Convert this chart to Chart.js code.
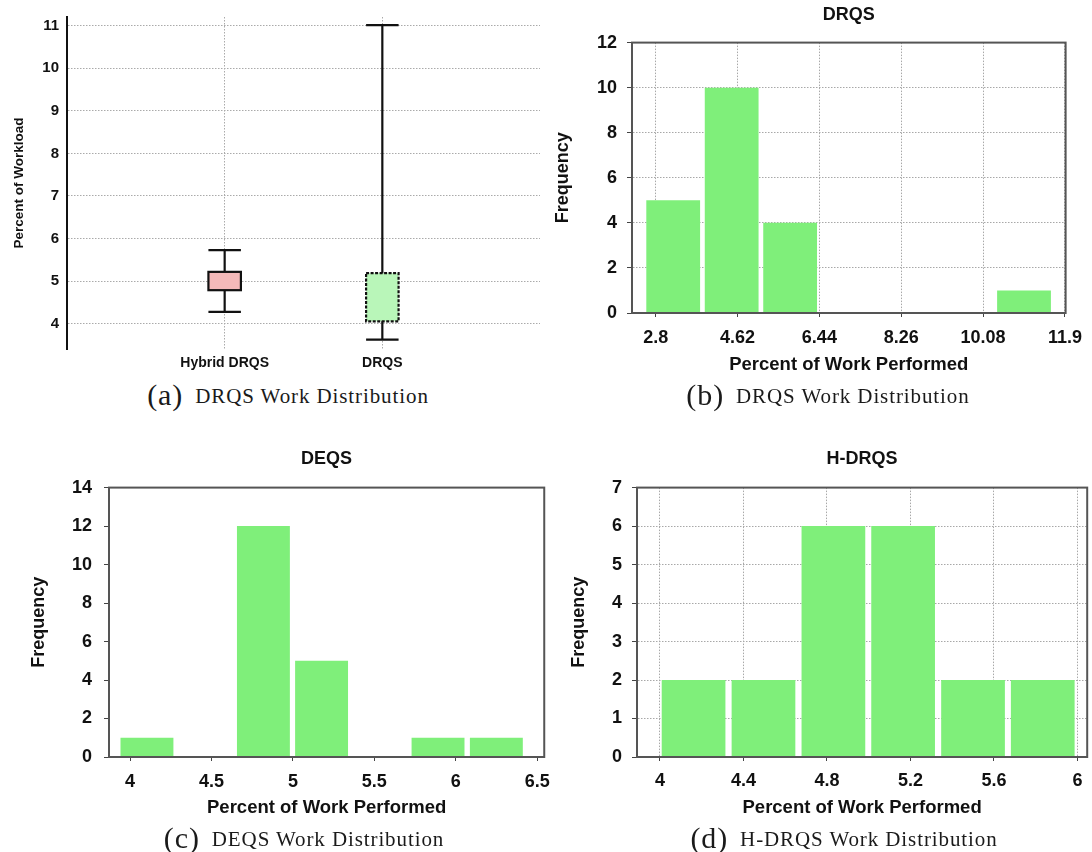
<!DOCTYPE html>
<html>
<head>
<meta charset="utf-8">
<title>Work Distribution</title>
<script src="https://cdn.jsdelivr.net/npm/chart.js@4.4.0/dist/chart.umd.min.js"></script>
<style>
    html, body { margin: 0; padding: 0; background: #fff; overflow: hidden; }
    #page { position: relative; width: 1092px; height: 852px; }
    .panel { position: absolute; }
    .caption {
        position: absolute;
        transform: translate(-50%, -50%);
        white-space: nowrap;
        font-family: 'Liberation Serif', 'DejaVu Serif', serif;
        font-size: 21px;
        letter-spacing: 0.9px;
        color: #1a1a1a;
    }
    .caption .tag { font-size: 30px; margin-right: 12px; vertical-align: -2px; }
</style>
</head>
<body>
<div id="page">
    <div class="panel" style="left:0;top:0;width:546px;height:378px"><canvas id="boxChart"></canvas></div>
    <div class="panel" style="left:546px;top:0;width:546px;height:380px"><canvas id="drqsChart"></canvas></div>
    <div class="panel" style="left:0;top:440px;width:560px;height:412px"><canvas id="deqsChart"></canvas></div>
    <div class="panel" style="left:546px;top:440px;width:546px;height:412px"><canvas id="hdrqsChart"></canvas></div>

    <div class="caption" style="left:288px;top:395px"><span class="tag">(a)</span>DRQS Work Distribution</div>
    <div class="caption" style="left:828px;top:395px"><span class="tag">(b)</span>DRQS Work Distribution</div>
    <div class="caption" style="left:304px;top:838px"><span class="tag">(c)</span>DEQS Work Distribution</div>
    <div class="caption" style="left:844px;top:838px"><span class="tag">(d)</span>H-DRQS Work Distribution</div>
</div>

<script>
// (a) box plot
const boxCategories = ['Hybrid DRQS', 'DRQS'];
const boxMin = [4.28, 3.63];
const boxQ1 = [4.79, 4.06];
const boxQ3 = [5.22, 5.19];
const boxMax = [5.73, 11.01];
const boxTicks = [4, 5, 6, 7, 8, 9, 10, 11];

// (b) DRQS histogram
const drqsBins = [3.19, 4.49, 5.79, 7.09, 8.39, 9.69, 10.99];
const drqsCounts = [5, 10, 4, 0, 0, 0, 1];
const drqsTicks = [2.8, 4.62, 6.44, 8.26, 10.08, 11.9];

// (c) DEQS histogram
const deqsBins = [4.104, 4.461, 4.819, 5.176, 5.534, 5.891, 6.249];
const deqsCounts = [1, 0, 12, 5, 0, 1, 1];
const deqsTicks = [4, 4.5, 5, 5.5, 6, 6.5];

// (d) H-DRQS histogram
const hdrqsBins = [4.161, 4.496, 4.831, 5.165, 5.5, 5.834];
const hdrqsCounts = [2, 2, 6, 6, 2, 2];
const hdrqsTicks = [4, 4.4, 4.8, 5.2, 5.6, 6];

const barGreen = '#7FEF7A';
const boxColors = ['#F4B9B9', '#B9F6B9'];
const boxDash = [[], [3, 1.5]];

Chart.defaults.font.family = "'Liberation Sans', Arial, sans-serif";
Chart.defaults.color = '#111';

const framePlugin = {
    id: 'frame',
    afterDraw(chart) {
        const { ctx, chartArea: a } = chart;
        ctx.save();
        ctx.strokeStyle = '#555';
        ctx.lineWidth = 2;
        ctx.strokeRect(a.left, a.top, a.right - a.left, a.bottom - a.top);
        ctx.restore();
    }
};

const whiskerPlugin = {
    id: 'whiskers',
    afterDatasetsDraw(chart) {
        const ctx = chart.ctx;
        const y = chart.scales.y;
        const meta = chart.getDatasetMeta(0);
        meta.data.forEach((bar, i) => {
            const half = bar.width / 2;
            const yMin = y.getPixelForValue(boxMin[i]);
            const yQ1 = y.getPixelForValue(boxQ1[i]);
            const yQ3 = y.getPixelForValue(boxQ3[i]);
            const yMax = y.getPixelForValue(boxMax[i]);
            ctx.save();
            ctx.strokeStyle = '#111';
            ctx.lineWidth = 2.2;
            ctx.beginPath();
            ctx.moveTo(bar.x, yMax); ctx.lineTo(bar.x, yQ3);
            ctx.moveTo(bar.x, yQ1); ctx.lineTo(bar.x, yMin);
            ctx.moveTo(bar.x - half, yMax); ctx.lineTo(bar.x + half, yMax);
            ctx.moveTo(bar.x - half, yMin); ctx.lineTo(bar.x + half, yMin);
            ctx.stroke();
            ctx.setLineDash(boxDash[i]);
            ctx.strokeRect(bar.x - half, yQ3, half * 2, yQ1 - yQ3);
            ctx.restore();
        });
    }
};

function initializeBoxChart() {
    new Chart(document.getElementById('boxChart'), {
        type: 'bar',
        data: {
            datasets: [{
                data: boxCategories.map((c, i) => ({ x: i + 1, y: [boxQ1[i], boxQ3[i]] })),
                backgroundColor: boxColors,
                borderWidth: 0,
                barPercentage: 0.206,
                categoryPercentage: 1
            }]
        },
        options: {
            responsive: true,
            maintainAspectRatio: false,
            animation: false,
            layout: { padding: { left: 0, right: 6, top: 3, bottom: 0 } },
            plugins: { legend: { display: false }, tooltip: { enabled: false } },
            scales: {
                x: {
                    type: 'linear',
                    min: 0,
                    max: boxCategories.length + 1,
                    offset: false,
                    afterBuildTicks: s => { s.ticks = boxCategories.map((c, i) => ({ value: i + 1 })); },
                    afterFit: s => { s.height = 29; },
                    ticks: {
                        callback: v => boxCategories[v - 1],
                        padding: 6,
                        autoSkip: false,
                        maxRotation: 0,
                        font: { size: 14, weight: 'bold' }
                    },
                    grid: { color: '#aaa', drawTicks: false, offset: false },
                    border: { display: false, dash: [1.5, 1.5] }
                },
                y: {
                    min: 3.41,
                    max: 11.2,
                    afterBuildTicks: s => { s.ticks = boxTicks.map(v => ({ value: v })); },
                    afterFit: s => { s.width = 67; },
                    ticks: { padding: 8, font: { size: 15, weight: 'bold' } },
                    grid: { color: '#aaa', drawTicks: false },
                    border: { display: true, color: '#111', width: 2, dash: [1.5, 1.5] },
                    title: {
                        display: true,
                        text: 'Percent of Workload',
                        font: { size: 13.5, weight: 'bold' },
                        padding: { top: 11, bottom: 0 }
                    }
                }
            }
        },
        plugins: [whiskerPlugin]
    });
}

function initializeHistogram(canvasId, title, bins, counts, xTicks, xMin, xMax, yMax, yStep, lay) {
    new Chart(document.getElementById(canvasId), {
        type: 'bar',
        data: {
            datasets: [{
                data: bins.map((b, i) => ({ x: b, y: counts[i] })),
                backgroundColor: barGreen,
                borderWidth: 0,
                barPercentage: lay.barPct,
                categoryPercentage: 1
            }]
        },
        options: {
            responsive: true,
            maintainAspectRatio: false,
            animation: false,
            layout: { padding: lay.padding },
            plugins: {
                legend: { display: false },
                tooltip: { enabled: false },
                title: {
                    display: true,
                    text: title,
                    fullSize: false,
                    color: '#111',
                    font: { size: 18, weight: 'bold' },
                    padding: lay.titlePad
                }
            },
            scales: {
                x: {
                    type: 'linear',
                    min: xMin,
                    max: xMax,
                    offset: false,
                    afterBuildTicks: s => { s.ticks = xTicks.map(v => ({ value: v })); },
                    afterFit: s => { s.height = lay.xHeight; },
                    ticks: {
                        callback: v => String(v),
                        padding: lay.xTickPad,
                        autoSkip: false,
                        maxRotation: 0,
                        font: { size: 18, weight: 'bold' }
                    },
                    grid: { drawOnChartArea: lay.grid, color: '#a8a8a8', tickLength: 4, tickColor: '#444', offset: false },
                    border: { display: true, color: '#444', width: 2, dash: [1.5, 1.5] },
                    title: {
                        display: true,
                        text: 'Percent of Work Performed',
                        font: { size: 18.5, weight: 'bold' },
                        padding: { top: 0, bottom: lay.xTitlePad }
                    }
                },
                y: {
                    min: 0,
                    max: yMax,
                    afterFit: s => { s.width = lay.yWidth; },
                    ticks: { stepSize: yStep, padding: lay.yTickPad, font: { size: 18, weight: 'bold' } },
                    grid: { drawOnChartArea: lay.grid, color: '#a8a8a8', tickLength: 5, tickColor: '#444' },
                    border: { display: true, color: '#444', width: 2, dash: [1.5, 1.5] },
                    title: {
                        display: true,
                        text: 'Frequency',
                        font: { size: 18, weight: 'bold' },
                        padding: { top: lay.yTitlePad, bottom: 0 }
                    }
                }
            }
        },
        plugins: [framePlugin]
    });
}

document.addEventListener('DOMContentLoaded', function() {
    initializeBoxChart();
    initializeHistogram('drqsChart', 'DRQS', drqsBins, drqsCounts, drqsTicks, 2.274, 11.915, 12, 2, {
        padding: { left: 0, right: 20, top: 0, bottom: 0 },
        titlePad: { top: 4, bottom: 17 },
        xHeight: 67, xTickPad: 10, xTitlePad: 4,
        yWidth: 86, yTickPad: 10, yTitlePad: 6,
        barPct: 0.92, grid: true
    });
    initializeHistogram('deqsChart', 'DEQS', deqsBins, deqsCounts, deqsTicks, 3.871, 6.543, 14, 2, {
        padding: { left: 0, right: 13, top: 0, bottom: 30 },
        titlePad: { top: 8, bottom: 18 },
        xHeight: 65, xTickPad: 10, xTitlePad: 2.5,
        yWidth: 109, yTickPad: 12, yTitlePad: 28,
        barPct: 0.91, grid: false
    });
    initializeHistogram('hdrqsChart', 'H-DRQS', hdrqsBins, hdrqsCounts, hdrqsTicks, 3.89, 6.047, 7, 1, {
        padding: { left: 0, right: 4, top: 0, bottom: 30 },
        titlePad: { top: 8, bottom: 18 },
        xHeight: 65, xTickPad: 9.5, xTitlePad: 2.5,
        yWidth: 91, yTickPad: 10, yTitlePad: 22,
        barPct: 0.914, grid: true
    });
});
</script>
</body>
</html>
